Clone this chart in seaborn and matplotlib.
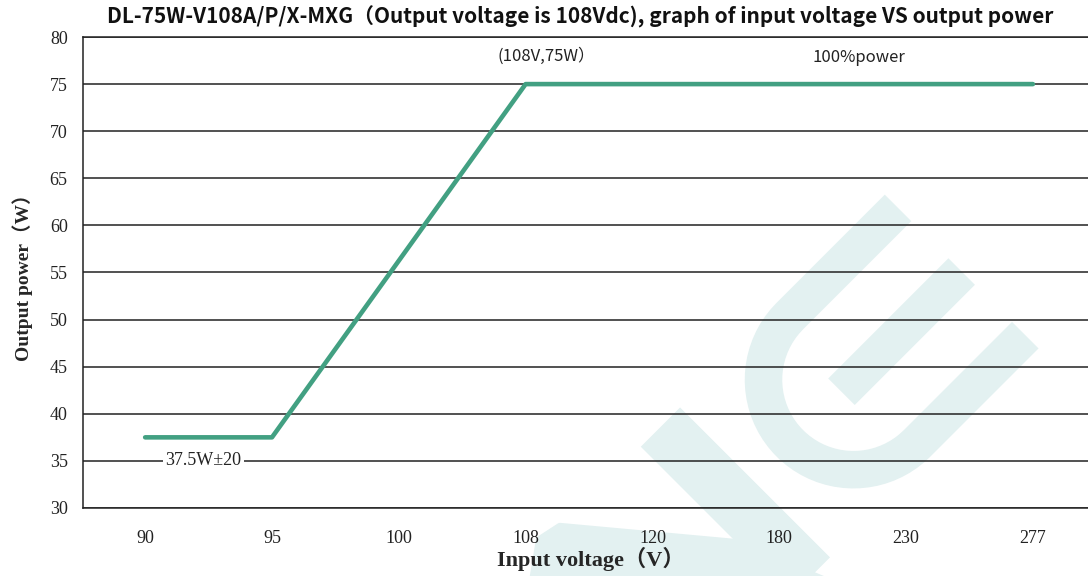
import matplotlib
matplotlib.use("Agg")
import matplotlib.pyplot as plt
import seaborn as sns
import numpy as np
import pandas as pd
from matplotlib.lines import Line2D
from matplotlib.patches import Polygon

# data
input_voltage = ["90", "95", "100", "108", "120", "180", "230", "277"]
output_power = [37.5, 37.5, 56.25, 75, 75, 75, 75, 75]
y_ticks = [30, 35, 40, 45, 50, 55, 60, 65, 70, 75, 80]

df = pd.DataFrame({"pos": np.arange(len(input_voltage)), "power": output_power})

sns.set_style("white")
plt.rcParams['font.family'] = ['Noto Sans CJK SC', 'DejaVu Sans']

fig = plt.figure(figsize=(10.88, 5.76), dpi=100)

# faint watermark logo behind the chart
# drawn in rotated pixel coords: u along the prongs (up-right), v across them
wm = "#e3f1f1"
r2 = np.sqrt(2)

def uv_to_fig(u, v):
    x = (np.asarray(u) + np.asarray(v)) / r2
    y = (np.asarray(v) - np.asarray(u)) / r2
    return x / 1088, 1 - y / 576

def wm_line(us, vs, lw):
    fx, fy = uv_to_fig(us, vs)
    fig.add_artist(Line2D(fx, fy, color=wm, lw=lw, solid_capstyle="butt",
                          solid_joinstyle="round", zorder=-1))

phi = np.linspace(0, np.pi, 40)
u0, v0, R = 335, 872, 90
u_path = np.concatenate([[488], u0 - R * np.sin(phi), [488]])
v_path = np.concatenate([[v0 - R], v0 - R * np.cos(phi), [v0 + R]])
wm_line(u_path, v_path, 27)
wm_line([318, 488], [872, 872], 27)
wm_line([165, 165], [769, 1060], 40)

wedge = [(560, 527), (735, 543), (870, 600), (530, 600), (540, 540)]
fig.add_artist(Polygon([(x / 1088, 1 - y / 576) for x, y in wedge], closed=True,
                       facecolor=wm, edgecolor=wm, lw=6, joinstyle="round", zorder=-1))

ax = fig.add_axes([83 / 1088, 1 - 508 / 576, 1 - 83 / 1088 + 0.01, (508 - 37) / 576])
ax.patch.set_alpha(0)

sns.lineplot(data=df, x="pos", y="power", ax=ax, color="#42a082", linewidth=3.3, zorder=3)

ax.set_xlim(-0.49, 7.52)
ax.set_ylim(30, 80)
ax.set_yticks(y_ticks)
ax.set_xticks(np.arange(len(input_voltage)))
ax.set_xticklabels(input_voltage)
ax.tick_params(axis="both", length=0, labelsize=13, colors="#222222")
ax.tick_params(axis="x", pad=16)
ax.tick_params(axis="y", pad=11)
for lab in ax.get_xticklabels() + ax.get_yticklabels():
    lab.set_family(["Liberation Serif", "DejaVu Serif"])

ax.grid(axis="y", color="#222222", linewidth=1.1)
ax.grid(axis="x", visible=False)
for s in ["left", "top", "bottom"]:
    ax.spines[s].set_color("#222222")
    ax.spines[s].set_linewidth(1.1)
ax.spines["right"].set_visible(False)

ax.set_xlabel("Input voltage（V）", fontsize=16, fontweight="bold",
              family=["Liberation Serif", "Noto Sans CJK SC"], labelpad=0)
ax.set_ylabel("Output power（W）", fontsize=14, fontweight="bold",
              family=["Liberation Serif", "Noto Sans CJK SC"], labelpad=12)

fig.text(580 / 1088, 1 - 17 / 576,
         "DL-75W-V108A/P/X-MXG（Output voltage is 108Vdc), graph of input voltage VS output power",
         ha="center", va="center", fontsize=15, fontweight="bold", color="#111111")

# annotations
ax.text(2.78, 78.0, "(108V,75W）", fontsize=12, ha="left", va="center", color="#222222")
ax.text(5.26, 77.8, "100%power", fontsize=12, ha="left", va="center", color="#222222")
ax.text(0.16, 35.0, "37.5W±20", fontsize=13, ha="left", va="center", color="#222222",
        family=["Liberation Serif", "DejaVu Serif"],
        bbox=dict(facecolor="white", edgecolor="none", pad=2))

fig.savefig("out.png", dpi=100)
